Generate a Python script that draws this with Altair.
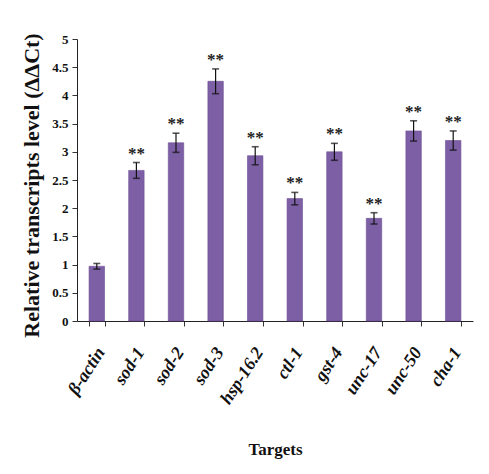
import altair as alt
import pandas as pd

targets = ["β-actin", "sod-1", "sod-2", "sod-3", "hsp-16.2", "ctl-1", "gst-4", "unc-17", "unc-50", "cha-1"]
levels = [0.97, 2.67, 3.16, 4.25, 2.93, 2.17, 3.00, 1.82, 3.37, 3.20]
errors = [0.05, 0.14, 0.17, 0.22, 0.16, 0.11, 0.15, 0.10, 0.18, 0.17]
signif = ["", "**", "**", "**", "**", "**", "**", "**", "**", "**"]
y_ticks = [0, 0.5, 1, 1.5, 2, 2.5, 3, 3.5, 4, 4.5, 5]

df = pd.DataFrame({"target": targets, "level": levels, "err": errors, "sig": signif})
df["lo"] = df["level"] - df["err"]
df["hi"] = df["level"] + df["err"]

FONT = "Liberation Serif"

x_axis = alt.Axis(
    title="Targets",
    titleFont=FONT, titleFontSize=17, titleFontWeight="bold", titleColor="#111",
    titleBaseline="alphabetic", titleY=133,
    labelFont=FONT, labelFontSize=18, labelFontWeight="bold", labelFontStyle="italic",
    labelColor="#111", labelAngle=-57, labelAlign="right", labelBaseline="middle",
    labelPadding=23, labelOffset=4,
    tickBand="extent", tickSize=5, tickColor="#333", domainColor="#222",
    grid=False,
)
x_scale = alt.Scale(paddingInner=0.61, paddingOuter=0.305)

y_axis = alt.Axis(
    title="Relative transcripts level (ΔΔCt)",
    values=y_ticks, format="~g",
    titleFont=FONT, titleFontSize=22, titleFontWeight="bold", titleColor="#111",
    titleAngle=-90, titleAlign="center", titleBaseline="middle",
    titleX=-46, titleY=146,
    labelFont=FONT, labelFontSize=13, labelFontWeight="bold", labelColor="#111",
    labelPadding=4, tickSize=5, tickColor="#333", domainColor="#222",
    grid=False,
)
y_scale = alt.Scale(domain=[0, 5], nice=False)


def xe():
    return alt.X("target:N", sort=targets, scale=x_scale, axis=x_axis)


def ye(field):
    return alt.Y(field, scale=y_scale, axis=y_axis)


bars = alt.Chart(df).mark_bar(color="#7d5fa6", stroke="#6b4f94", strokeWidth=0.6).encode(
    x=xe(), y=ye("level:Q")
)

rules = alt.Chart(df).mark_rule(color="#111", strokeWidth=1.2).encode(
    x=xe(), y=ye("lo:Q"), y2="hi:Q"
)

caps_hi = alt.Chart(df).mark_tick(color="#111", size=7, thickness=1.6, orient="horizontal").encode(
    x=xe(), y=ye("hi:Q")
)

caps_lo = alt.Chart(df).mark_tick(color="#111", size=7, thickness=1.6, orient="horizontal").encode(
    x=xe(), y=ye("lo:Q")
)

stars = alt.Chart(df).mark_text(
    font=FONT, fontSize=17, fontWeight="bold", color="#222", baseline="alphabetic", dy=-4
).encode(
    x=xe(), y=ye("hi:Q"), text="sig:N"
)

chart = alt.layer(bars, rules, caps_hi, caps_lo, stars).properties(
    width=396,
    height=282,
    autosize=alt.AutoSizeParams(type="none"),
    padding={"left": 69, "top": 31, "right": 4, "bottom": 142},
    background="white",
).configure_view(stroke=None)

chart.save("out.html", embed_options={"renderer": "svg", "actions": False})
